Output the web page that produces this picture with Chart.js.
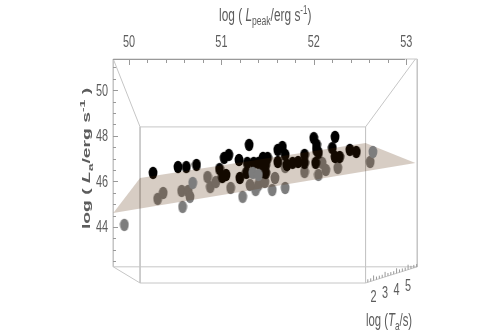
<!DOCTYPE html>
<html>
<head>
<meta charset="utf-8">
<title>Fundamental plane</title>
<script src="https://cdn.jsdelivr.net/npm/chart.js@4"></script>
<style>
  html, body { margin:0; padding:0; background:#fff; }
  canvas { display:block; filter:blur(0.45px); }
</style>
</head>
<body>
<canvas id="chart-plane" width="498" height="332"></canvas>
<script>
/*############################################################################
                  [ChartJS] 3D-looking scatter: Lpeak, Ta, La
############################################################################*/

// x = log Lpeak, y = log La as they land on the projected picture
var blackX = [50.26,50.53,50.62,50.73,50.98,51.03,51.08,51.05,51.01,51.19,51.20,51.27,51.28,51.35,51.30,51.45,51.45,51.40,51.45,51.50,51.48,51.48,51.66,51.61,51.61,51.69,51.71,51.77,51.83,51.90,51.90,52.00,52.03,52.02,52.03,52.05,52.23,52.20,52.23,52.28,52.39,52.46];
var blackY = [46.37,46.63,46.63,46.72,46.54,47.03,47.16,46.28,46.19,46.94,46.15,46.37,46.81,46.81,47.60,46.85,46.41,46.81,47.03,47.03,46.72,46.37,47.51,47.38,46.85,47.16,46.72,46.81,46.85,47.16,46.81,47.90,47.38,46.81,47.60,47.25,47.95,47.46,47.07,47.07,47.38,47.29];

var grayX = [49.95,50.31,50.37,50.58,50.57,50.64,50.66,50.85,50.88,50.94,51.10,51.23,51.37,51.40,51.31,51.47,51.55,51.69,51.58,51.69,51.90,52.05,52.09,52.13,52.26,52.61];
var grayY = [44.09,45.23,45.49,44.88,45.58,45.58,45.32,46.19,45.75,45.97,45.71,45.32,45.62,45.84,45.84,45.97,45.62,45.71,46.15,46.63,46.41,46.28,46.81,46.50,46.59,46.85];

// the few gray ones sitting above the plane
var frontX = [50.69,51.34,51.40,52.64];
var frontY = [45.93,46.37,46.28,47.29];

var planeX = [49.83,50.12,52.56,53.10];
var planeY = [44.61,46.15,47.68,46.81];

// box edges: x1, y1, x2, y2
var wireEdges = [
  [49.83,51.37,53.12,51.37],
  [49.83,51.37,49.83,42.25],
  [53.12,51.37,53.12,42.25],
  [49.83,42.25,53.12,42.25],
  [50.12,48.39,52.56,48.39],
  [50.12,48.39,50.12,41.54],
  [52.56,48.39,52.56,41.54],
  [50.12,41.54,52.56,41.54],
  [49.83,51.37,50.12,48.39],
  [53.10,51.37,52.56,48.39],
  [49.83,42.25,50.12,41.54],
  [53.12,42.25,52.56,41.54]
];

var xTickLabels = [50,51,52,53];
var yTickLabels = [44,46,48,50];
var zTickLabels = [2,3,4,5];

function toPoints(xs, ys){
  return xs.map(function(x, i){ return {x:x, y:ys[i]}; });
}

// Points are taller than wide in the original
function makeDot(color){
  var c = document.createElement("canvas");
  c.width = 10; c.height = 14;
  var g = c.getContext("2d");
  g.fillStyle = color;
  g.beginPath();
  g.ellipse(5, 7, 4.4, 6.2, 0, 0, Math.PI*2);
  g.fill();
  return c;
}

var dotBlack = makeDot("#000000");
var dotGray = makeDot("#7d7d7d");

var datasets = [];
wireEdges.forEach(function(e){
  datasets.push({
    data:[{x:e[0],y:e[1]},{x:e[2],y:e[3]}],
    showLine:true, borderColor:"#c6c6c6", borderWidth:1, pointRadius:0, clip:false, order:6
  });
});
datasets.push({label:"gray", data:toPoints(grayX, grayY), pointStyle:dotGray, order:4});
datasets.push({label:"black", data:toPoints(blackX, blackY), pointStyle:dotBlack, order:3});
datasets.push({
  label:"plane", data:toPoints(planeX, planeY), showLine:true, fill:"shape",
  backgroundColor:"rgba(82,39,0,0.23)", borderWidth:0, pointRadius:0, order:2
});
datasets.push({label:"front", data:toPoints(frontX, frontY), pointStyle:dotGray, order:1});

var textColor = "#5c5c5c";
var sans = "'Liberation Sans', sans-serif";

// Text in the original is squeezed sideways, no narrow font installed
function squeezed(ctx, text, x, y, scaleX, size){
  ctx.save();
  ctx.translate(x, y);
  ctx.scale(scaleX, 1);
  ctx.font = size + "px " + sans;
  ctx.fillText(text, 0, 0);
  ctx.restore();
}

// Runs of text with italics, subscripts, superscripts
function drawRich(ctx, pieces, x, y, scaleX){
  ctx.save();
  ctx.translate(x, y);
  ctx.scale(scaleX, 1);
  var pos = 0;
  pieces.forEach(function(p){
    ctx.font = (p.style || "") + " " + p.size + "px " + sans;
    ctx.fillText(p.text, pos, p.dy || 0);
    pos += ctx.measureText(p.text).width;
  });
  ctx.restore();
}

var pictureBits = {
  id:"pictureBits",
  afterDraw:function(chart){
    var ctx = chart.ctx;
    var sx = chart.scales.x, sy = chart.scales.y;
    var top = chart.chartArea.top;
    var left = chart.chartArea.left;

    ctx.save();
    ctx.strokeStyle = "#999999";
    ctx.lineWidth = 1;
    ctx.beginPath();
    ctx.moveTo(left, top + 0.5);
    ctx.lineTo(chart.chartArea.right - 12, top + 0.5);
    sx.ticks.forEach(function(t){
      var px = Math.round(sx.getPixelForValue(t.value)) + 0.5;
      ctx.moveTo(px, top);
      ctx.lineTo(px, top + (xTickLabels.indexOf(Math.round(t.value*10)/10) >= 0 ? 6 : 4));
    });
    sy.ticks.forEach(function(t){
      var py = Math.round(sy.getPixelForValue(t.value)) + 0.5;
      ctx.moveTo(left, py);
      ctx.lineTo(left + (yTickLabels.indexOf(t.value) >= 0 ? 5 : 3), py);
    });
    // third axis, runs along the front bottom edge
    var x0 = sx.getPixelForValue(52.56), y0 = sy.getPixelForValue(41.54);
    var x1 = sx.getPixelForValue(53.12), y1 = sy.getPixelForValue(42.25);
    var zMin = 1.3, zMax = 5.8;
    for (var z = 1.5; z <= 5.75; z += 0.25){
      var f = (z - zMin)/(zMax - zMin);
      var zx = x0 + (x1 - x0)*f, zy = y0 + (y1 - y0)*f;
      ctx.moveTo(zx, zy);
      ctx.lineTo(zx, zy - (z % 1 === 0 ? 5 : 3));
    }
    ctx.stroke();

    ctx.fillStyle = textColor;
    ctx.textBaseline = "middle";

    ctx.textAlign = "center";
    xTickLabels.forEach(function(v){
      squeezed(ctx, String(v), sx.getPixelForValue(v), 43, 0.68, 16);
    });
    zTickLabels.forEach(function(v){
      var f = (v - zMin)/(zMax - zMin);
      squeezed(ctx, String(v), x0 + (x1 - x0)*f, y0 + (y1 - y0)*f + 17, 0.68, 16);
    });
    ctx.textAlign = "right";
    yTickLabels.forEach(function(v){
      squeezed(ctx, String(v), left - 5, sy.getPixelForValue(v) + 1, 0.68, 16);
    });

    ctx.textAlign = "left";
    ctx.textBaseline = "alphabetic";
    drawRich(ctx, [
      {text:"log ( ", size:18},
      {text:"L", size:18, style:"italic"},
      {text:"peak", size:13, dy:4},
      {text:"/erg s", size:18},
      {text:"-1", size:12, dy:-7},
      {text:")", size:18}
    ], 219, 21, 0.66);
    drawRich(ctx, [
      {text:"log (", size:18},
      {text:"T", size:18, style:"italic"},
      {text:"a", size:13, dy:4},
      {text:"/s)", size:18}
    ], 366, 326, 0.63);

    ctx.translate(90, 229);
    ctx.rotate(-Math.PI/2);
    drawRich(ctx, [
      {text:"log ( ", size:11, style:"bold"},
      {text:"L", size:11, style:"italic bold"},
      {text:"a", size:8, style:"bold", dy:3},
      {text:"/erg s", size:11, style:"bold"},
      {text:"-1", size:8, style:"bold", dy:-5},
      {text:" )", size:11, style:"bold"}
    ], 0, 0, 1.75);
    ctx.restore();
  }
};

var chartPlane = new Chart(document.getElementById("chart-plane"), {
  type:"scatter",
  data:{datasets:datasets},
  plugins:[pictureBits],
  options:{
    responsive:false,
    animation:false,
    layout:{padding:{left:70, right:81, top:4, bottom:49}},
    plugins:{legend:{display:false}, tooltip:{enabled:false}},
    scales:{
      x:{
        type:"linear", position:"top",
        min:49.827, max:53.117,
        afterFit:function(s){ s.height = 55; },
        grid:{display:false},
        border:{display:false},
        ticks:{display:false, stepSize:0.2, includeBounds:false, autoSkip:false}
      },
      y:{
        type:"linear",
        min:41.54, max:51.37,
        afterFit:function(s){ s.width = 43; },
        afterBuildTicks:function(s){
          s.ticks = s.ticks.filter(function(t){ return t.value >= 42.25; });
        },
        grid:{display:false},
        border:{display:false},
        ticks:{display:false, stepSize:0.5, includeBounds:false, autoSkip:false}
      }
    }
  }
});
</script>
</body>
</html>
